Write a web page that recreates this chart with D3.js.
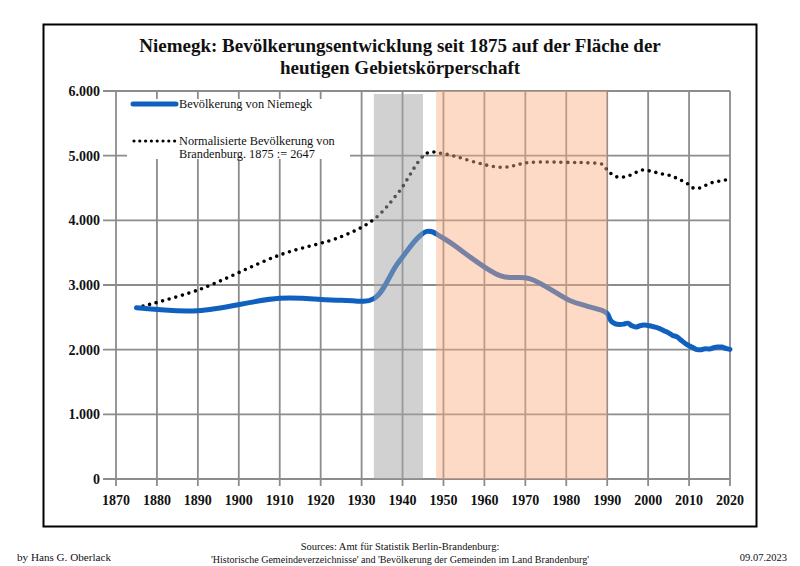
<!DOCTYPE html>
<html><head><meta charset="utf-8">
<script src="https://cdn.jsdelivr.net/npm/d3@7"></script>
<style>body{margin:0;background:#fff}svg{display:block}text{font-family:"Liberation Serif","Times New Roman",serif}</style>
</head><body>
<svg id="c" width="800" height="566"></svg>
<script>
const titleLines = ["Niemegk: Bevölkerungsentwicklung seit 1875 auf der Fläche der", "heutigen Gebietskörperschaft"];
const xTicks = [1870,1880,1890,1900,1910,1920,1930,1940,1950,1960,1970,1980,1990,2000,2010,2020];
const yTicks = [0,1000,2000,3000,4000,5000,6000];
const yTickLabels = ["0","1.000","2.000","3.000","4.000","5.000","6.000"];
const legendLabels = ["Bevölkerung von Niemegk", "Normalisierte Bevölkerung von", "Brandenburg. 1875 := 2647"];
const periods = [[1933,1945,"grey"],[1948.2,1990,"orange"]];

const niemegkYears = [1875,1890,1910,1925,1933,1939,1946,1950,1964,1971,1981,1985,1989,1990,1991,1992,1993,1994,1995,1996,1997,1998,1999,2000,2001,2002,2003,2004,2005,2006,2007,2008,2009,2010,2011,2012,2013,2014,2015,2016,2017,2018,2019,2020];
const niemegkValues = [2647,2603,2794,2765,2790,3350,3830,3722,3140,3100,2757,2675,2600,2560,2440,2400,2390,2395,2410,2370,2350,2370,2380,2375,2360,2345,2320,2290,2260,2220,2200,2150,2100,2060,2030,2000,2000,2015,2010,2030,2040,2040,2020,2005];

const brbYears = [1875,1890,1910,1925,1933,1939,1946,1950,1964,1971,1981,1985,1989,1990,1991,1992,1993,1994,1995,1996,1997,1998,1999,2000,2001,2002,2003,2004,2005,2006,2007,2008,2009,2010,2011,2012,2013,2014,2015,2016,2017,2018,2019,2020];
const brbValues = [2647,2922,3464,3747,4015,4430,5040,5030,4820,4895,4895,4890,4860,4770,4720,4680,4665,4670,4680,4710,4740,4770,4780,4770,4750,4740,4725,4710,4700,4680,4650,4620,4590,4550,4500,4490,4510,4540,4570,4590,4600,4615,4625,4635];

const footerLeft = "by Hans G. Oberlack";
const footerRight = "09.07.2023";
const sourceLines = ["Sources: Amt für Statistik Berlin-Brandenburg:", "'Historische Gemeindeverzeichnisse' and 'Bevölkerung der Gemeinden im Land Brandenburg'"];

const svg = d3.select("#c");
const x = d3.scaleLinear().domain([1870,2020]).range([116,730]);
const y = d3.scaleLinear().domain([0,6000]).range([479,91]);

// frame
svg.append("rect").attr("x",43.5).attr("y",24.5).attr("width",713).attr("height",502)
  .attr("fill","#fff").attr("stroke","#000").attr("stroke-width",2);

// title
titleLines.forEach((t,i)=>{
  svg.append("text").attr("x",400).attr("y",52+i*22).attr("text-anchor","middle")
    .attr("font-weight","bold").attr("font-size",19).attr("fill","#111").text(t);
});

const grid = svg.append("g").attr("stroke","#8c8c8c").attr("stroke-width",1.8);
grid.selectAll("line.h").data(yTicks).join("line")
  .attr("x1",103).attr("x2",730).attr("y1",d=>y(d)).attr("y2",d=>y(d));
grid.selectAll("line.v").data(xTicks).join("line")
  .attr("x1",d=>x(d)).attr("x2",d=>x(d)).attr("y1",y(6000)).attr("y2",y(0)+7);

// axis labels
svg.append("g").selectAll("text").data(yTicks).join("text")
  .attr("x",100).attr("y",d=>y(d)+5).attr("text-anchor","end")
  .attr("font-weight","bold").attr("font-size",14).attr("fill","#111")
  .text((d,i)=>yTickLabels[i]);
svg.append("g").selectAll("text").data(xTicks).join("text")
  .attr("x",d=>x(d)).attr("y",505).attr("text-anchor","middle")
  .attr("font-weight","bold").attr("font-size",14).attr("fill","#111")
  .text(d=>d);

// legend background
svg.append("rect").attr("x",127).attr("y",99).attr("width",223).attr("height",60).attr("fill","#fff");

// lines
const line = d3.line().curve(d3.curveCatmullRom.alpha(0.5));
svg.append("path")
  .attr("d", line(brbYears.map((yr,i)=>[x(yr),y(brbValues[i])])))
  .attr("fill","none").attr("stroke","#000").attr("stroke-width",3.6)
  .attr("stroke-linecap","round").attr("stroke-dasharray","0 6.8");
svg.append("path")
  .attr("d", line(niemegkYears.map((yr,i)=>[x(yr),y(niemegkValues[i])])))
  .attr("fill","none").attr("stroke","#1060c0").attr("stroke-width",5)
  .attr("stroke-linejoin","round").attr("stroke-linecap","round");

// period overlays
svg.selectAll("rect.p").data(periods).join("rect")
  .attr("x",d=>x(d[0])).attr("width",d=>x(d[1])-x(d[0]))
  .attr("y",d=>d[2]==="grey"? y(6000)+3 : y(6000)).attr("height",d=>y(0)-(d[2]==="grey"? y(6000)+3 : y(6000)))
  .attr("fill",d=>d[2]==="grey"?"#a4a4a4":"#fbae80")
  .attr("fill-opacity",d=>d[2]==="grey"?0.5:0.45);

// legend items
svg.append("line").attr("x1",133).attr("x2",176).attr("y1",104).attr("y2",104)
  .attr("stroke","#1060c0").attr("stroke-width",5).attr("stroke-linecap","round");
svg.append("line").attr("x1",134).attr("x2",175).attr("y1",141).attr("y2",141)
  .attr("stroke","#000").attr("stroke-width",3.2).attr("stroke-linecap","round").attr("stroke-dasharray","0 5.8");
svg.append("text").attr("x",179).attr("y",108).attr("font-size",12.3).attr("fill","#111").text(legendLabels[0]);
svg.append("text").attr("x",179).attr("y",145).attr("font-size",12.3).attr("fill","#111").text(legendLabels[1]);
svg.append("text").attr("x",179).attr("y",158).attr("font-size",12.3).attr("fill","#111").text(legendLabels[2]);

// footer
const ft = svg.append("g").attr("font-size",10.5).attr("fill","#111");
ft.append("text").attr("x",17).attr("y",561).attr("font-size",11).attr("textLength",94).attr("lengthAdjust","spacingAndGlyphs").text(footerLeft);
ft.append("text").attr("x",787).attr("y",561).attr("text-anchor","end").text(footerRight);
ft.append("text").attr("x",400).attr("y",550).attr("text-anchor","middle").text(sourceLines[0]);
ft.append("text").attr("x",211).attr("y",563).attr("textLength",378).attr("lengthAdjust","spacingAndGlyphs").text(sourceLines[1]);
</script>
</body></html>
